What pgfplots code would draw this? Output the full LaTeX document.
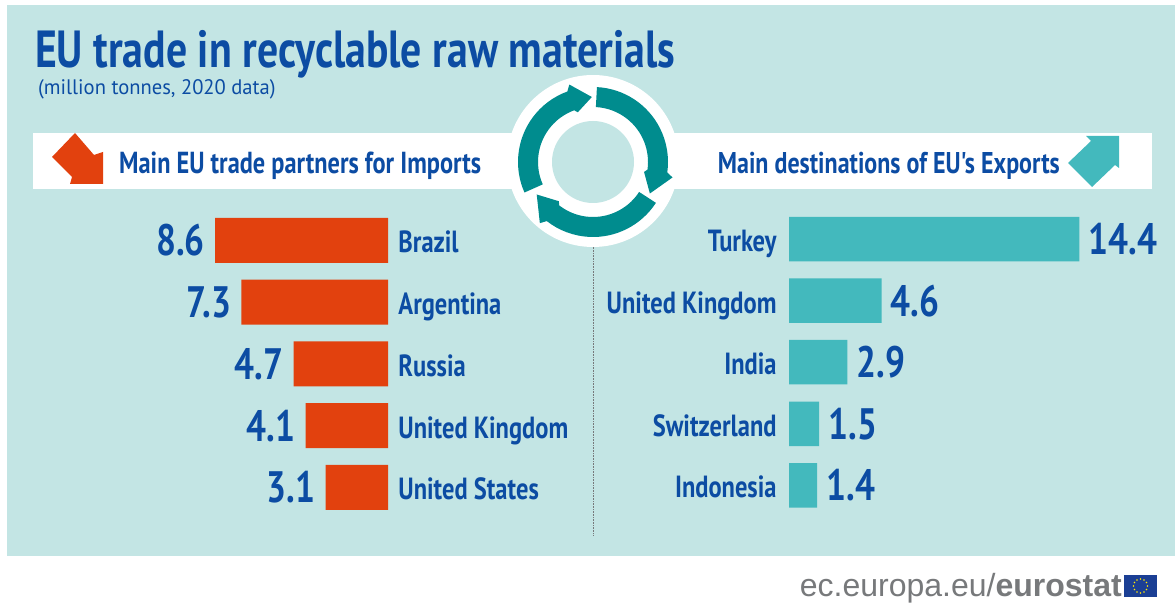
\documentclass[border=0pt]{standalone}
\usepackage{pgfplots}
\pgfplotsset{compat=1.18}
\usepackage{fontspec}
\setmainfont{Liberation Sans}
\newfontfamily\condb[FakeStretch=0.80]{PT Sans Bold}
\newfontfamily\reg[FakeStretch=0.98]{PT Sans}
\newfontfamily\foot{Liberation Sans}
\definecolor{bg}{HTML}{C3E5E4}
\definecolor{blu}{HTML}{0C4CA3}
\definecolor{redb}{HTML}{E2410E}
\definecolor{teal1}{HTML}{43B9BD}
\definecolor{ring}{HTML}{008C8E}
\definecolor{flag}{HTML}{1B3F94}
\definecolor{gry}{HTML}{77797B}
\newcommand{\arrowseg}[3]{% tail angle, base angle, tip angle
  \fill[ring] (593,162) ++(#1:75pt) arc[start angle=#1,end angle=#2,radius=75pt]
   -- ($(593,162)+(#2-3:81pt)$) -- ($(593,162)+(#3:65pt)$) -- ($(593,162)+(#2-3:52pt)$) -- ($(593,162)+(#2:55pt)$)
   arc[start angle=#2,end angle=#1,radius=55pt] -- cycle;}
\usetikzlibrary{calc}
\begin{document}
\begin{tikzpicture}
\begin{scope}[shift={(0pt,603pt)},x=1pt,y=-1pt]
\path[use as bounding box,fill=white] (0,0) rectangle (1175,603);
\fill[bg] (7,5) rectangle (1175,556);
\fill[white] (33,133) rectangle (1152,189);
\draw[gry,densely dotted,line width=0.6pt] (593,245) -- (593,535);
\fill[white] (593,161) circle[radius=86pt];
\fill[bg] (593,162) circle[radius=41pt];
\arrowseg{87}{-8}{-29}
\arrowseg{-33}{-128}{-150}
\arrowseg{204}{110}{91}
% header arrows
\fill[redb] (75,133) -- (94,155) -- (103,152) -- (103,184) -- (70,184) -- (72,177) -- (52,157) -- cycle;
\fill[teal1] (1086,136) -- (1119,136) -- (1119,168) -- (1115,165) -- (1092,187) -- (1068,163) -- (1091,141) -- cycle;
% texts
\node[anchor=base west,inner sep=0,text=blu,font={\condb\fontsize{52.2}{52}\selectfont}] at (35,68) {EU trade in recyclable raw materials};
\node[anchor=base west,inner sep=0,text=blu,font={\reg\fontsize{21}{21}\selectfont}] at (38,95) {(million tonnes, 2020 data)};
\node[anchor=base west,inner sep=0,text=blu,font={\condb\fontsize{30.4}{30}\selectfont}] at (119,174) {Main EU trade partners for Imports};
\node[anchor=base east,inner sep=0,text=blu,font={\condb\fontsize{30}{30}\selectfont}] at (1060,174) {Main destinations of EU's Exports};
% footer
\node[anchor=base east,inner sep=0,text=gry,font={\foot\fontsize{32}{32}\selectfont}] at (1122,596) {ec.europa.eu/\textbf{eurostat}};
\fill[flag] (1124,575) rectangle (1157,597);
\foreach \a in {0,30,...,330} \fill[yellow!90!orange] (1140.5,586) ++(\a:7pt) circle[radius=0.9pt];
\end{scope}
\begin{axis}[
  at={(388pt,393.4pt)},anchor=north east,
  scale only axis,width=200pt,height=308.75pt,
  x dir=reverse,y dir=reverse,
  xmin=0,xmax=9.95,ymin=0.5,ymax=5.5,
  xbar,bar width=45pt,
  axis line style={draw=none},tick style={draw=none},
  xtick=\empty,ytick={1,2,3,4,5},
  yticklabels={Brazil,Argentina,Russia,United Kingdom,United States},
  yticklabel pos=right,
  yticklabel style={font={\condb\fontsize{30.6}{30}\selectfont},text=blu,anchor=west,xshift=6pt,yshift=-5pt,text height=21pt,text depth=6pt,inner sep=0pt},
  point meta=explicit symbolic,
  nodes near coords={\pgfplotspointmeta},
  nodes near coords align={anchor=east},
  every node near coord/.append style={font={\condb\fontsize{44}{44}\selectfont},text=blu,inner sep=0pt,xshift=-10pt,anchor=east},
  clip=false,
]
\addplot[draw=none,fill=redb] coordinates {(8.6,1)[8.6] (7.3,2)[7.3] (4.7,3)[4.7] (4.1,4)[4.1] (3.1,5)[3.1]};
\end{axis}
\begin{axis}[
  at={(789pt,394.8pt)},anchor=north west,
  scale only axis,width=381pt,height=308pt,
  y dir=reverse,
  xmin=0,xmax=18.9,ymin=0.5,ymax=5.5,
  xbar,bar width=44.5pt,
  axis line style={draw=none},tick style={draw=none},
  xtick=\empty,ytick={1,2,3,4,5},
  yticklabels={Turkey,United Kingdom,India,Switzerland,Indonesia},
  yticklabel style={font={\condb\fontsize{30.6}{30}\selectfont},text=blu,anchor=east,xshift=-8pt,yshift=-5pt,text height=21pt,text depth=6pt,inner sep=0pt},
  point meta=explicit symbolic,
  nodes near coords={\pgfplotspointmeta},
  every node near coord/.append style={font={\condb\fontsize{44}{44}\selectfont},text=blu,inner sep=0pt,xshift=9pt,anchor=west},
  clip=false,
]
\addplot[draw=none,fill=teal1] coordinates {(14.4,1)[14.4] (4.6,2)[4.6] (2.9,3)[2.9] (1.5,4)[1.5] (1.4,5)[1.4]};
\end{axis}
\end{tikzpicture}
\end{document}
